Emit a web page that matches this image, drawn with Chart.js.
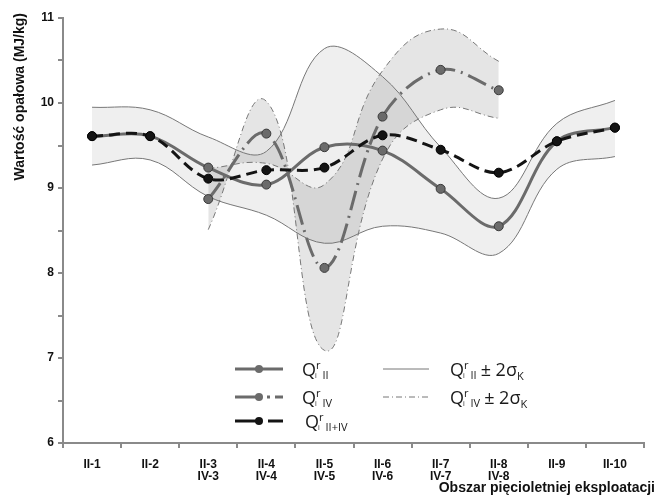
<!DOCTYPE html>
<html>
<head>
<meta charset="utf-8">
<script src="https://cdn.jsdelivr.net/npm/chart.js@4"></script>
<style>
  html, body { margin: 0; padding: 0; background: #fff; }
  #wrap { width: 657px; height: 504px; }
</style>
</head>
<body>
<div id="wrap"><canvas id="chart" width="657" height="504"></canvas></div>
<script>
// --- Data ---
const categories = ['II-1', 'II-2', ['II-3', 'IV-3'], ['II-4', 'IV-4'], ['II-5', 'IV-5'],
    ['II-6', 'IV-6'], ['II-7', 'IV-7'], ['II-8', 'IV-8'], 'II-9', 'II-10'];

const qII = [9.61, 9.61, 9.24, 9.04, 9.48, 9.44, 8.99, 8.55, 9.55, 9.71];
const qIV = [null, null, 8.87, 9.64, 8.06, 9.84, 10.39, 10.15, null, null];
const qIIIV = [9.61, 9.61, 9.11, 9.21, 9.24, 9.62, 9.45, 9.18, 9.55, 9.71];

// Q_II +/- 2 sigma band
const bandIIupper = [9.95, 9.92, 9.60, 9.43, 10.64, 10.31, 9.48, 8.88, 9.76, 10.03];
const bandIIlower = [9.27, 9.33, 8.90, 8.68, 8.35, 8.55, 8.47, 8.23, 9.22, 9.37];

// Q_IV +/- 2 sigma band (the two curves cross between IV-3 and IV-6)
const bandIVa = [null, null, 8.51, 10.02, 7.09, 9.34, 9.92, 9.82, null, null];
const bandIVb = [null, null, 9.23, 9.29, 9.04, 10.38, 10.87, 10.49, null, null];

const yTicks = { min: 6, max: 11, step: 0.5 };

// --- Styles ---
const GRAY = '#6b6b6b';
const BLACK = '#141414';
const AXIS = '#8a8a8a';
const DASH_DOT_THICK = [20, 6, 2, 6];
const DASH_DOT_THIN = [6, 3, 1, 3];
const DASH = [11, 6];

// --- Legend + axis titles plugin ---
function richLabel(ctx, x, y, sub, tail) {
    ctx.fillStyle = '#1a1a1a';
    ctx.textBaseline = 'alphabetic';
    ctx.textAlign = 'left';
    ctx.font = '18px "Open Sans"';
    ctx.fillText('Q', x, y);
    let cx = x + ctx.measureText('Q').width;
    ctx.font = '11px "Open Sans"';
    ctx.fillText('r', cx, y - 7);
    const rw = ctx.measureText('r').width;
    ctx.font = '7px "Open Sans"';
    ctx.fillText('i', cx - 1, y + 2);
    cx += rw + 2;
    ctx.font = '11px "Open Sans"';
    ctx.fillText(sub, cx, y + 3);
    cx += ctx.measureText(sub).width;
    if (tail) {
        ctx.font = '18px "Open Sans"';
        ctx.fillText(tail, cx + 4, y);
        cx += 4 + ctx.measureText(tail).width;
        ctx.font = '11px "Open Sans"';
        ctx.fillText('K', cx, y + 4);
    }
}

function sampleLine(ctx, x1, x2, y, color, width, dash) {
    ctx.save();
    ctx.strokeStyle = color;
    ctx.lineWidth = width;
    ctx.setLineDash(dash || []);
    ctx.beginPath();
    ctx.moveTo(x1, y);
    ctx.lineTo(x2, y);
    ctx.stroke();
    ctx.restore();
}

function dot(ctx, x, y, color) {
    ctx.save();
    ctx.fillStyle = color;
    ctx.beginPath();
    ctx.arc(x, y, 4, 0, Math.PI * 2);
    ctx.fill();
    ctx.restore();
}

const decorPlugin = {
    id: 'decor',
    afterDraw(chart) {
        const ctx = chart.ctx;
        ctx.save();

        // legend, left column
        sampleLine(ctx, 235, 283, 369, GRAY, 3);
        dot(ctx, 259, 369, GRAY);
        richLabel(ctx, 302, 376, 'II');

        sampleLine(ctx, 235, 259, 397, GRAY, 3);
        dot(ctx, 259, 397, GRAY);
        sampleLine(ctx, 267, 270, 397, GRAY, 3);
        sampleLine(ctx, 275, 283, 397, GRAY, 3);
        richLabel(ctx, 302, 404, 'IV');

        sampleLine(ctx, 235, 259, 421, BLACK, 3);
        dot(ctx, 259, 421, BLACK);
        sampleLine(ctx, 268, 283, 421, BLACK, 3);
        richLabel(ctx, 305, 428, 'II+IV');

        // legend, right column
        sampleLine(ctx, 383, 429, 369, '#777', 1);
        richLabel(ctx, 450, 376, 'II', '± 2σ');
        sampleLine(ctx, 383, 429, 397, '#777', 1, DASH_DOT_THIN);
        richLabel(ctx, 450, 404, 'IV', '± 2σ');

        // axis titles
        ctx.fillStyle = '#111';
        ctx.font = 'bold 14px "Liberation Sans"';
        ctx.textAlign = 'right';
        ctx.fillText('Obszar pięcioletniej eksploatacji', 655, 492);

        ctx.translate(24, 13);
        ctx.rotate(-Math.PI / 2);
        ctx.font = 'bold 14px "Liberation Sans"';
        ctx.textAlign = 'right';
        ctx.fillText('Wartość opałowa (MJ/kg)', 0, 0);
        ctx.restore();
    }
};

// --- Chart ---
function bandLine(data, dash, fill, order, tension) {
    return {
        data, fill, order, tension,
        borderColor: '#777',
        borderWidth: 1,
        borderDash: dash,
        backgroundColor: fill ? (dash.length ? 'rgba(0,0,0,0.1)' : '#efefef') : 'transparent',
        pointRadius: 0,
    };
}

function mainLine(data, color, dash, order) {
    return {
        data, order,
        borderColor: color,
        borderWidth: 3,
        borderDash: dash,
        fill: false,
        pointRadius: 4.5,
        pointBackgroundColor: color,
        pointBorderColor: color === BLACK ? '#000' : '#3a3a3a',
        pointBorderWidth: 1,
        tension: 0.35,
    };
}

const chart = new Chart(document.getElementById('chart'), {
    type: 'line',
    data: {
        labels: categories,
        datasets: [
            bandLine(bandIIupper, [], '+1', 20, 0.38),
            bandLine(bandIIlower, [], false, 19, 0.38),
            bandLine(bandIVa, DASH_DOT_THIN, '+1', 18, 0.45),
            bandLine(bandIVb, DASH_DOT_THIN, false, 17, 0.45),
            mainLine(qII, GRAY, [], 3),
            mainLine(qIV, GRAY, DASH_DOT_THICK, 2),
            mainLine(qIIIV, BLACK, DASH, 1),
        ]
    },
    options: {
        responsive: false,
        animation: false,
        layout: { padding: { left: 0, top: 18, right: 13, bottom: 0 } },
        plugins: {
            legend: { display: false },
            tooltip: { enabled: false },
            filler: { drawTime: 'beforeDatasetsDraw' },
        },
        scales: {
            x: {
                offset: true,
                grid: { offset: true, drawOnChartArea: false, tickLength: 5, color: AXIS, lineWidth: 2 },
                border: { color: AXIS, width: 2 },
                ticks: { color: '#111', font: { family: 'Liberation Sans', size: 12, weight: 'bold', lineHeight: 1.05 }, padding: 10, maxRotation: 0, autoSkip: false },
                afterFit(scale) { scale.height = 61; },
            },
            y: {
                min: yTicks.min, max: yTicks.max,
                grid: { drawOnChartArea: false, tickLength: 5, color: AXIS, lineWidth: 2 },
                border: { color: AXIS, width: 2 },
                ticks: {
                    stepSize: yTicks.step,
                    color: '#111',
                    padding: 4,
                    font: { family: 'Liberation Sans', size: 12, weight: 'bold' },
                    callback: v => Number.isInteger(v) ? String(v) : '',
                },
                afterFit(scale) { scale.width = 63; },
            }
        }
    },
    plugins: [decorPlugin]
});
</script>
</body>
</html>
